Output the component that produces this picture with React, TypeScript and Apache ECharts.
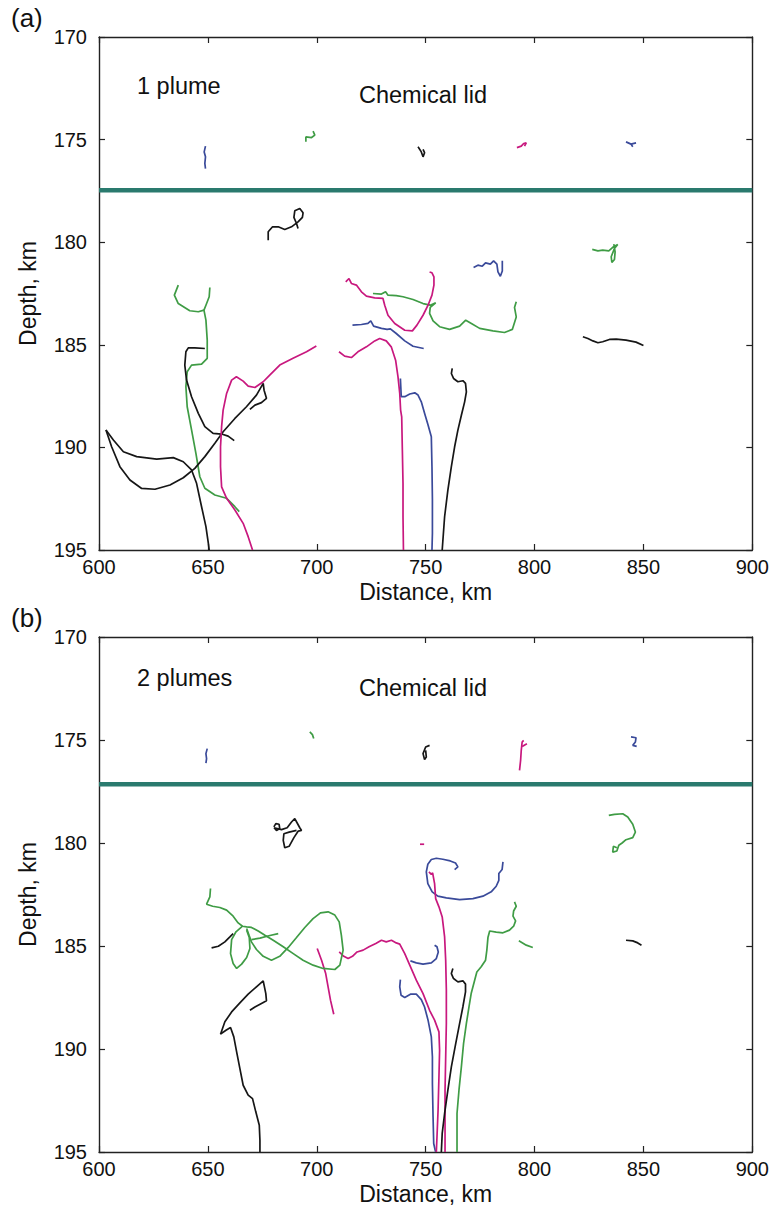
import React, { useEffect, useRef } from "react";
import * as echarts from "echarts";

type P = [number, number][];

// ---------- panel (a) : 1 plume ----------
const aLidDepth = 177.47;
const aGreen1: P = [[636.4,182.09],[634.6,182.58],[636.4,182.99],[641.7,183.34],[645.6,183.39],[648.2,183.31],[649.1,183.8],[649.7,184.77],[649.7,185.66],[647.1,185.94],[642.5,185.99],[640.5,186.31],[639.9,187.04],[640.5,188.02],[642.5,189.15],[644.5,190.29],[646.3,191.43],[648.6,191.99],[653.2,192.32],[658.6,192.48],[662.4,192.89],[664.4,193.13]];
const aGreen2: P = [[650.9,182.21],[650.6,182.66],[649.1,183.07],[648.2,183.31]];
const aGreen3: P = [[725.8,182.5],[729.7,182.53],[731.6,182.42],[732.7,182.58],[736.5,182.6],[739.6,182.66],[744.2,182.79],[748.8,182.99],[752.1,183.07],[754.6,182.95],[752.1,183.18],[751.8,183.47],[753.4,183.83],[756.4,184.12],[761.0,184.25],[765.6,184.09],[768.4,183.8],[771.0,183.96],[774.8,184.2],[780.9,184.32],[786.2,184.4],[789.8,184.25],[791.6,183.64],[790.8,183.18],[791.6,182.9]];
const aGreen4: P = [[826.5,180.35],[829.1,180.42],[831.3,180.39],[834.1,180.42],[835.9,180.25],[838.2,180.11],[836.7,180.3],[835.2,180.71],[835.5,180.99],[836.7,180.84],[837.0,180.47],[836.4,180.09]];
const aGreenTop: P = [[695.0,175.11],[695.0,174.87],[697.6,174.9],[699.1,174.78],[698.3,174.59]];
const aBlack1: P = [[648.6,185.18],[644.0,185.15],[641.0,185.15],[639.9,185.34],[639.4,185.99],[640.2,186.72],[642.5,187.53],[645.6,188.34],[648.6,188.99],[652.4,189.32],[656.3,189.35],[659.3,189.45],[662.1,189.67]];
const aBlack2: P = [[603.2,189.15],[606.6,189.64],[611.2,190.21],[617.3,190.45],[626.5,190.57],[634.1,190.5],[638.7,190.7],[642.5,191.1],[644.8,191.75],[647.1,192.89],[649.1,193.86],[650.2,194.67],[650.6,195.0]];
const aBlack3: P = [[603.2,189.15],[605.8,189.97],[609.6,190.94],[614.2,191.59],[619.6,192.0],[625.7,192.04],[632.6,191.83],[638.7,191.48],[644.0,191.02],[648.6,190.45],[653.2,189.8],[657.0,189.24],[662.4,188.59],[667.7,188.02],[672.3,187.45],[675.4,186.88],[675.8,187.21],[676.9,187.61],[674.6,187.82],[671.6,187.94],[669.3,188.15]];
const aBlack4: P = [[762.2,186.15],[761.8,186.4],[762.8,186.64],[764.8,186.8],[767.1,186.75],[768.3,186.88],[768.7,187.29],[767.9,187.78],[766.4,188.43],[764.8,189.16],[763.3,189.97],[761.8,190.94],[760.2,192.08],[758.7,193.38],[757.6,195.0]];
const aBlack5: P = [[822.2,184.61],[824.5,184.69],[826.8,184.81],[829.1,184.9],[831.3,184.85],[834.4,184.74],[837.5,184.72],[842.0,184.77],[846.6,184.87],[850.0,185.03]];
const aBlackLoop: P = [[677.7,179.9],[677.7,179.49],[679.7,179.25],[682.3,179.25],[685.3,179.38],[688.4,179.25],[691.4,179.01],[693.4,178.79],[693.7,178.57],[692.2,178.36],[689.9,178.47],[689.5,178.79],[690.7,179.09],[691.4,179.33]];
const aBlackTop: P = [[746.5,175.35],[748.0,175.6],[748.8,175.84],[749.5,175.64],[748.8,175.48]];
const aMag1: P = [[699.8,185.06],[695.3,185.34],[689.1,185.66],[683.0,185.99],[678.4,186.48],[675.4,186.8],[671.6,187.08],[668.5,187.01],[666.2,186.77],[663.1,186.56],[660.9,186.72],[658.6,187.37],[657.0,188.18],[656.3,188.99],[655.8,189.97],[655.8,190.94],[656.3,191.92],[658.6,192.48],[662.4,193.05],[666.2,193.7],[668.5,194.35],[670.5,195.0]];
const aMag2: P = [[710.2,185.34],[712.8,185.55],[715.9,185.62],[718.9,185.34],[722.8,185.1],[726.6,184.81],[728.9,184.69],[731.9,184.81],[734.2,185.1],[736.2,185.75],[737.3,186.56],[738.1,187.37],[738.5,188.18],[739.0,188.51],[739.3,190.13],[739.6,191.75],[739.6,193.38],[739.8,195.0]];
const aMag3: P = [[713.3,181.93],[714.8,181.77],[715.9,182.01],[718.2,182.09],[720.5,182.42],[722.8,182.63],[726.6,182.71],[730.4,182.74],[731.2,183.07],[732.7,183.56],[735.8,183.96],[740.4,184.29],[743.9,184.32],[746.0,184.04],[748.8,183.56],[751.1,183.07],[752.9,182.58],[753.8,182.09],[753.8,181.69],[752.9,181.49],[751.8,181.45]];
const aMagTop: P = [[791.9,175.39],[793.9,175.32],[795.0,175.19],[796.2,175.16],[795.4,175.32]];
const aBlue1: P = [[716.4,184.04],[720.5,184.01],[723.5,183.96],[724.8,183.83],[726.1,184.09],[729.7,184.2],[732.3,184.25],[733.8,184.22],[736.5,184.45],[740.4,184.81],[744.2,185.07],[749.1,185.18]];
const aBlue2: P = [[738.4,186.64],[738.8,187.53],[740.4,187.53],[742.7,187.4],[745.0,187.34],[746.5,187.45],[748.0,187.78],[749.5,188.34],[751.1,188.91],[752.6,189.48],[752.9,190.94],[753.1,192.56],[753.1,194.19],[752.9,195.0]];
const aBlue3: P = [[772.0,181.23],[774.0,181.12],[776.0,181.17],[777.5,181.01],[779.7,181.07],[781.2,180.91],[782.7,181.07],[783.2,181.45],[784.3,181.66],[785.2,181.4],[785.2,180.91]];
const aBlueTop1: P = [[648.9,175.32],[648.3,175.6],[648.9,175.84],[648.6,176.16],[648.9,176.41]];
const aBlueTop2: P = [[842.0,175.11],[844.3,175.22],[846.6,175.16],[844.3,175.22],[845.1,175.35]];

// ---------- panel (b) : 2 plumes ----------
const bLidDepth = 177.15;
const bBlueTop1: P = [[649.7,175.42],[649.1,175.66],[649.4,175.91],[649.1,176.12]];
const bGreenTop: P = [[696.8,174.61],[698.0,174.74],[698.6,174.93]];
const bBlackTop: P = [[751.8,175.26],[750.0,175.34],[748.8,175.66],[749.5,175.95],[750.3,175.83],[750.0,175.5]];
const bMagTop1: P = [[793.1,176.47],[793.6,175.99],[793.9,175.5],[794.3,175.1],[795.0,175.02]];
const bMagTop2: P = [[794.3,175.31],[796.5,175.18]];
const bBlueTop2: P = [[844.3,174.85],[846.6,174.89],[846.3,175.1],[845.1,175.26],[846.9,175.31]];
const bBlackLoop: P = [[680.3,179.22],[681.2,179.06],[682.7,179.09],[683.0,179.3],[681.5,179.39],[680.4,179.26],[683.8,179.35],[686.4,179.26],[688.4,178.98],[689.9,178.82],[691.0,179.03],[692.2,179.26],[693.0,179.39],[691.5,179.42],[689.5,179.74],[687.3,180.16],[685.3,180.23],[684.6,179.87],[684.9,179.55],[687.3,179.47],[690.7,179.39]];
const bMagDash: P = [[747.4,180.06],[749.3,180.06]];
const bGreen1: P = [[834.1,178.66],[836.7,178.61],[840.5,178.58],[842.8,178.74],[845.1,179.09],[846.3,179.47],[845.1,179.74],[842.0,179.84],[840.2,180.0],[838.7,180.11],[837.8,180.39],[835.9,180.44],[836.2,180.16],[837.8,180.23]];
const bBlue1: P = [[763.3,181.29],[764.8,181.16],[763.7,180.97],[761.3,180.87],[757.9,180.79],[754.9,180.74],[752.6,180.8],[751.0,181.03],[750.3,181.4],[751.0,181.97],[753.0,182.37],[755.6,182.58],[759.5,182.66],[765.6,182.75],[771.7,182.7],[776.3,182.58],[780.1,182.37],[782.4,182.1],[783.6,181.81],[783.6,181.48],[785.1,181.29],[785.5,180.92]];
const bMag1: P = [[751.5,181.4],[752.6,181.52],[753.2,181.45],[754.1,181.97],[754.6,182.7],[756.1,183.1],[757.6,183.59],[758.7,184.56],[759.2,185.69],[759.5,187.15],[759.5,188.76],[759.2,190.38],[758.9,192.0],[758.9,193.62],[758.9,195.0]];
const bBlue2: P = [[743.0,185.72],[745.7,185.82],[748.8,185.88],[752.6,185.82],[754.9,185.61],[755.8,185.29],[755.2,185.04],[754.1,184.96]];
const bBlue3: P = [[738.4,186.63],[738.1,186.98],[738.7,187.39],[740.4,187.5],[743.0,187.34],[745.7,187.34],[748.0,187.6],[749.5,187.96],[751.1,188.6],[752.6,189.41],[753.1,190.38],[753.1,191.68],[753.4,193.3],[753.7,194.59],[754.3,194.88],[754.6,195.0]];
const bMag2: P = [[710.3,185.29],[712.4,185.5],[714.4,185.61],[716.4,185.5],[718.5,185.29],[721.3,185.2],[724.0,185.04],[727.1,184.88],[729.7,184.72],[731.9,184.8],[734.3,184.72],[736.5,184.85],[738.1,184.91],[740.4,185.37],[742.7,185.93],[745.7,186.66],[748.8,187.31],[751.8,188.12],[754.1,188.6],[756.1,189.17],[756.4,190.06],[756.1,191.35],[755.7,192.97],[755.2,194.27],[754.9,195.0]];
const bMag3: P = [[700.2,185.12],[702.2,185.69],[704.1,186.34],[705.2,186.98],[706.3,187.63],[707.8,188.31]];
const bGreen2: P = [[651.2,182.21],[650.9,182.62],[649.4,182.97],[652.2,183.07],[655.5,183.13],[658.6,183.26],[661.6,183.55],[663.9,183.88],[665.9,184.04],[667.8,184.07],[670.0,184.1],[673.1,184.27],[676.2,184.48],[680.0,184.72],[684.6,185.04],[689.2,185.37],[693.7,185.69],[698.3,185.93],[702.9,186.09],[708.3,186.14],[710.6,185.93],[712.1,185.2],[711.3,184.48],[710.3,183.83],[708.3,183.5],[705.2,183.34],[701.7,183.39],[698.3,183.67],[694.5,184.1],[690.7,184.59],[686.9,185.07],[683.0,185.5],[679.2,185.69],[675.4,185.5],[672.3,185.17],[670.0,184.8],[668.9,184.48],[667.8,184.15]];
const bGreen3: P = [[665.9,184.04],[662.9,184.31],[660.9,184.69],[660.4,185.37],[661.6,185.85],[663.2,186.09],[665.5,185.88],[667.8,185.56],[669.3,185.12],[669.0,184.59],[667.8,184.23]];
const bGreen4: P = [[670.0,184.69],[673.9,184.62],[678.5,184.49],[682.3,184.4]];
const bBlack1: P = [[651.7,185.09],[654.8,185.01],[657.8,184.8],[660.1,184.56],[661.6,184.4]];
const bBlack2: P = [[669.3,188.12],[671.6,187.96],[674.6,187.79],[676.9,187.66],[676.6,187.31],[675.4,186.69],[672.3,186.98],[668.5,187.34],[664.7,187.76],[660.9,188.2],[657.8,188.68],[655.8,189.28],[658.3,189.09],[660.4,188.96],[661.9,189.41],[663.2,190.14],[664.7,190.95],[666.2,191.76],[668.5,192.24],[670.5,192.41],[672.0,193.05],[673.6,193.7],[673.9,194.43],[673.9,195.0]];
const bBlack3: P = [[762.5,186.09],[761.8,186.34],[762.8,186.58],[764.8,186.74],[767.1,186.69],[768.3,186.85],[768.3,187.23],[767.1,187.95],[765.6,188.76],[763.8,189.74],[761.8,190.87],[760.2,192.0],[758.7,193.13],[757.6,194.1],[757.2,195.0]];
const bGreen5: P = [[790.8,182.86],[791.6,183.07],[790.4,183.3],[790.1,183.55],[791.3,183.78],[790.4,184.04],[788.5,184.23],[785.5,184.36],[782.4,184.33],[779.4,184.27],[778.6,184.59],[778.1,185.2],[777.5,185.69],[775.5,186.01],[773.5,186.26],[772.5,186.66],[770.9,187.31],[769.9,187.96],[768.7,188.76],[767.4,189.74],[766.4,190.87],[765.3,192.0],[764.4,193.13],[764.4,195.0]];
const bGreen6: P = [[792.8,184.75],[796.2,184.96],[799.2,185.07]];
const bBlack4: P = [[842.0,184.72],[845.1,184.75],[847.4,184.85],[849.1,184.96]];

const xTicks = [600, 650, 700, 750, 800, 850, 900];
const yTicks = [170, 175, 180, 185, 190, 195];

const BLACK = "#161616";
const BLUE = "#3a4a9a";
const GREEN = "#3f9c45";
const MAGENTA = "#c8187e";
const TEAL = "#2a7a6e";

const panelA: [P, string][] = [
  [aGreen1, GREEN], [aGreen2, GREEN], [aGreen3, GREEN], [aGreen4, GREEN], [aGreenTop, GREEN],
  [aBlack1, BLACK], [aBlack2, BLACK], [aBlack3, BLACK], [aBlack4, BLACK], [aBlack5, BLACK], [aBlackLoop, BLACK], [aBlackTop, BLACK],
  [aMag1, MAGENTA], [aMag2, MAGENTA], [aMag3, MAGENTA], [aMagTop, MAGENTA],
  [aBlue1, BLUE], [aBlue2, BLUE], [aBlue3, BLUE], [aBlueTop1, BLUE], [aBlueTop2, BLUE],
];
const panelB: [P, string][] = [
  [bBlueTop1, BLUE], [bGreenTop, GREEN], [bBlackTop, BLACK], [bMagTop1, MAGENTA], [bMagTop2, MAGENTA], [bBlueTop2, BLUE],
  [bBlackLoop, BLACK], [bMagDash, MAGENTA], [bGreen1, GREEN], [bBlue1, BLUE], [bMag1, MAGENTA], [bBlue2, BLUE], [bBlue3, BLUE],
  [bMag2, MAGENTA], [bMag3, MAGENTA], [bGreen2, GREEN], [bGreen3, GREEN], [bGreen4, GREEN], [bBlack1, BLACK],
  [bBlack2, BLACK], [bBlack3, BLACK], [bGreen5, GREEN], [bGreen6, GREEN], [bBlack4, BLACK],
];

const FONT = "'Liberation Sans', Arial, Helvetica, sans-serif";
const AX = "#222";

function xAxes(grid: number) {
  const base = {
    type: "value" as const, gridIndex: grid, min: xTicks[0], max: xTicks[xTicks.length - 1], interval: 50,
    axisLine: { show: true, lineStyle: { color: AX, width: 1.4 } },
    axisTick: { show: true, inside: true, length: 6, lineStyle: { color: AX, width: 1.2 } },
    splitLine: { show: false },
  };
  return [
    { ...base, position: "bottom", axisLabel: { show: true, fontSize: 20, color: "#111", fontFamily: FONT, margin: 7 },
      name: "Distance, km", nameLocation: "middle", nameGap: 30, nameTextStyle: { fontSize: 23, color: "#111", fontFamily: FONT } },
    { ...base, position: "top", axisLabel: { show: false } },
  ];
}
function yAxes(grid: number) {
  const base = {
    type: "value" as const, gridIndex: grid, min: yTicks[0], max: yTicks[yTicks.length - 1], interval: 5, inverse: true,
    axisLine: { show: true, lineStyle: { color: AX, width: 1.4 } },
    axisTick: { show: true, inside: true, length: 6, lineStyle: { color: AX, width: 1.2 } },
    splitLine: { show: false },
  };
  return [
    { ...base, position: "left", axisLabel: { show: true, fontSize: 20, color: "#111", fontFamily: FONT, margin: 12 },
      name: "Depth, km", nameLocation: "middle", nameGap: 60, nameTextStyle: { fontSize: 23, color: "#111", fontFamily: FONT } },
    { ...base, position: "right", axisLabel: { show: false } },
  ];
}

function buildSeries(panel: [P, string][], axisIdx: number, lid: number) {
  const s: any[] = panel.map(([d, c]) => ({
    type: "line", xAxisIndex: axisIdx, yAxisIndex: axisIdx, data: d, showSymbol: false, symbol: "none",
    lineStyle: { color: c, width: 1.7 }, silent: true, z: 3,
  }));
  s.push({
    type: "line", xAxisIndex: axisIdx, yAxisIndex: axisIdx,
    data: [[xTicks[0], lid], [xTicks[xTicks.length - 1], lid]], showSymbol: false, symbol: "none",
    lineStyle: { color: TEAL, width: 4.5 }, silent: true, z: 4,
  });
  return s;
}

export default function App() {
  const ref = useRef<HTMLDivElement>(null);
  useEffect(() => {
    if (!ref.current) return;
    const chart = echarts.init(ref.current, undefined, { renderer: "svg" });
    const txt = (text: string, left: number, top: number, size: number) => ({
      type: "text", left, top, style: { text, fontSize: size, fontFamily: FONT, fill: "#111" },
    });
    chart.setOption({
      animation: false,
      backgroundColor: "#ffffff",
      grid: [
        { left: 99, top: 37, width: 654, height: 513 },
        { left: 99, top: 637, width: 654, height: 515 },
      ],
      xAxis: [...xAxes(0), ...xAxes(1)],
      yAxis: [...yAxes(0), ...yAxes(1)],
      series: [...buildSeries(panelA, 0, aLidDepth), ...buildSeries(panelB, 2, bLidDepth)],
      graphic: [
        txt("(a)", 11, 5, 26),
        txt("(b)", 11, 605, 26),
        txt("1 plume", 137, 74, 23.5),
        txt("Chemical lid", 359, 83, 23.5),
        txt("2 plumes", 137, 666, 23.5),
        txt("Chemical lid", 359, 676, 23.5),
      ],
    });
    return () => chart.dispose();
  }, []);
  return <div ref={ref} style={{ position: "absolute", left: 0, top: 0, width: 772, height: 1206, background: "#fff" }} />;
}
